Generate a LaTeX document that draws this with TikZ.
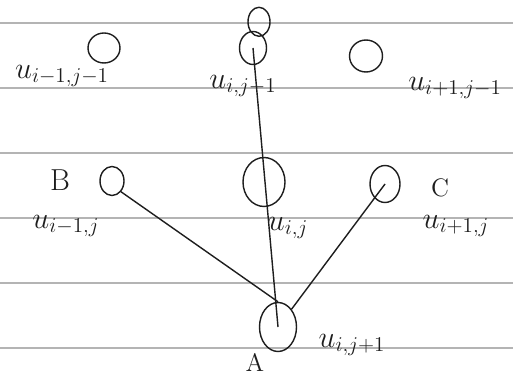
\documentclass[tikz,border=0pt]{standalone}
\usepackage{amsmath}
\usepackage{tikz}
\usetikzlibrary{shapes.geometric,positioning}
\definecolor{ruling}{HTML}{B4B4B4}
\definecolor{ink}{HTML}{1E1E1E}

\begin{document}
\begin{tikzpicture}[
  x=0.02cm,
  y=-0.02cm,
  pt/.style={ellipse, draw=ink, line width=0.8pt, inner sep=0pt},
  rule/.style={draw=ruling, line width=0.6pt},
  stroke/.style={draw=ink, line width=0.8pt},
  lbl/.style={text=ink, inner sep=0pt, font=\LARGE},
  every node/.style={font=\large}
]
\useasboundingbox (0,0) rectangle (513,374);
\fill[white] (0,0) rectangle (513,374);
\foreach \ry in {23,88,153,218,283,348}
  \draw[rule] (0,\ry) -- (513,\ry);

\node[pt, minimum width=0.64cm, minimum height=0.6cm] (ul) at (104,48) {};
\node[pt, minimum width=0.54cm, minimum height=0.66cm] (um) at (253,48) {};
\node[pt, minimum width=0.66cm, minimum height=0.64cm] (ur) at (366,56) {};
\node[pt, minimum width=0.48cm, minimum height=0.58cm] (ml) at (112,181) {};
\node[pt, minimum width=0.84cm, minimum height=0.98cm] (mm) at (264,182) {};
\node[pt, minimum width=0.6cm, minimum height=0.74cm] (mr) at (385,184) {};
\node[pt, minimum width=0.74cm, minimum height=0.98cm] (bm) at (278,327) {};
\draw[stroke] (um.north) ++(6,-9) ellipse (11 and 14.5);

\node[lbl] (lul) at (62,76) {$u_{i-1,j-1}$};
\node[lbl] (lum) at (243,86) {$u_{i,j-1}$};
\node[lbl] (lur) at (455,88) {$u_{i+1,j-1}$};
\node[lbl] (lml) at (66,226) {$u_{i-1,j}$};
\node[lbl] (lmm) at (288,228) {$u_{i,j}$};
\node[lbl] (lmr) at (456,226) {$u_{i+1,j}$};
\node[lbl] (lbm) at (352,345) {$u_{i,j+1}$};
\node[lbl] (tB) at (60,180) {B};
\node[lbl, font=\Large] (tC) at (440,188) {C};
\node[lbl, font=\Large] (tA) at (255,362) {A};

\draw[stroke] (bm.center) -- (um.center);
\draw[stroke] (bm.north) -- (ml.south east);
\draw[stroke] (bm.north east) -- (mr.center);
\end{tikzpicture}
\end{document}
